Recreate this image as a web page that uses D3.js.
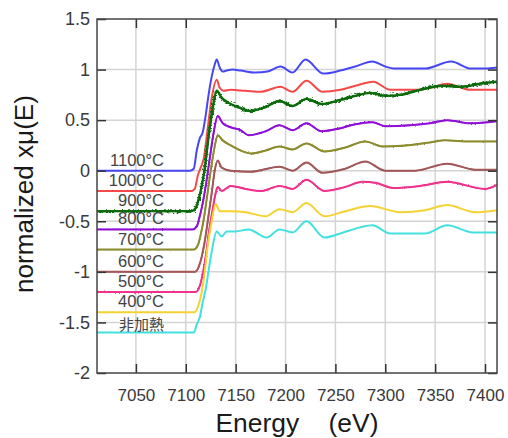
<!DOCTYPE html>
<html>
<head>
<meta charset="utf-8">
<script src="https://cdnjs.cloudflare.com/ajax/libs/d3/7.8.5/d3.min.js"></script>
<style>
  body { margin: 0; background: #fff; }
  svg { display: block; }
</style>
</head>
<body>
<div id="chart"></div>
<script>
// XANES spectra, offset by -0.2 per temperature
const labels = ['1100°C', '1000°C', '900°C', '800°C', '700°C', '600°C', '500°C', '400°C', '非加熱'];
const baselines = [0, -0.2, -0.4, -0.58, -0.78, -1.0, -1.2, -1.4, -1.6];
const colors = ['#4646f5', '#f54848', '#0a6a0a', '#9010d8', '#8c8c2e', '#a25858', '#f0328c', '#f5d232', '#44e0e0'];
const noise = [0, 0, 4.4, 1.5, 1.3, 1.2, 1.5, 0, 0];

const xTicks = [7050, 7100, 7150, 7200, 7250, 7300, 7350, 7400];
const yTicks = [-2, -1.5, -1, -0.5, 0, 0.5, 1, 1.5];

const s1100 = [[7011,0.0],[7060,0.0],[7104,0.0],[7108,0.02],[7111,0.2],[7114,0.32],[7117,0.38],[7120,0.55],[7123,0.76],[7126,0.93],[7129,1.05],[7131,1.1],[7134,1.02],[7137,0.98],[7141,0.99],[7147,1.0],[7155,0.99],[7170,0.97],[7182,0.98],[7195,1.03],[7207,0.97],[7220,1.1],[7238,0.96],[7255,0.99],[7270,1.03],[7287,1.08],[7300,1.03],[7310,1.01],[7340,1.01],[7366,1.08],[7386,1.01],[7400,1.01],[7412,1.02]];
const s1000 = [[7011,-0.2],[7060,-0.2],[7106,-0.2],[7109,-0.18],[7112,-0.05],[7115,0.03],[7118,0.12],[7122,0.42],[7126,0.72],[7131,0.9],[7134,0.82],[7138,0.79],[7145,0.8],[7160,0.79],[7175,0.78],[7195,0.83],[7207,0.78],[7221,0.89],[7237,0.78],[7255,0.8],[7270,0.84],[7288,0.88],[7305,0.8],[7330,0.8],[7345,0.82],[7362,0.86],[7385,0.8],[7400,0.8],[7412,0.8]];
const s900 = [[7011,-0.4],[7060,-0.4],[7106,-0.4],[7110,-0.37],[7113,-0.28],[7116,-0.15],[7119,0.02],[7123,0.35],[7127,0.62],[7131,0.79],[7136,0.72],[7145,0.66],[7155,0.62],[7164,0.59],[7180,0.63],[7194,0.69],[7207,0.64],[7221,0.71],[7236,0.66],[7255,0.7],[7270,0.74],[7285,0.77],[7300,0.74],[7315,0.75],[7335,0.8],[7357,0.84],[7377,0.83],[7395,0.86],[7412,0.88]];
const s800 = [[7011,-0.58],[7060,-0.58],[7107,-0.58],[7111,-0.55],[7114,-0.45],[7117,-0.32],[7120,-0.15],[7124,0.12],[7128,0.38],[7132,0.54],[7137,0.47],[7145,0.43],[7155,0.4],[7163,0.35],[7180,0.39],[7194,0.45],[7207,0.4],[7221,0.47],[7236,0.39],[7255,0.42],[7270,0.46],[7287,0.48],[7300,0.44],[7325,0.45],[7345,0.47],[7362,0.5],[7385,0.47],[7412,0.49]];
const s700 = [[7011,-0.78],[7060,-0.78],[7108,-0.78],[7112,-0.74],[7115,-0.63],[7118,-0.48],[7121,-0.28],[7125,0.0],[7129,0.24],[7132,0.35],[7137,0.3],[7145,0.25],[7155,0.2],[7166,0.17],[7180,0.2],[7194,0.24],[7207,0.21],[7221,0.27],[7239,0.19],[7260,0.23],[7280,0.29],[7297,0.24],[7320,0.25],[7345,0.28],[7360,0.3],[7385,0.29],[7412,0.29]];
const s600 = [[7011,-1.0],[7060,-1.0],[7109,-1.0],[7113,-0.95],[7116,-0.85],[7119,-0.7],[7122,-0.5],[7126,-0.22],[7129,0.0],[7132,0.1],[7136,0.03],[7145,0.0],[7165,-0.01],[7194,0.04],[7207,0.0],[7221,0.08],[7237,-0.02],[7260,0.02],[7280,0.09],[7300,0.0],[7330,0.0],[7362,0.07],[7390,0.01],[7412,0.01]];
const s500 = [[7011,-1.2],[7060,-1.2],[7110,-1.2],[7114,-1.14],[7117,-1.02],[7120,-0.85],[7123,-0.62],[7127,-0.38],[7130,-0.22],[7132,-0.16],[7136,-0.2],[7145,-0.15],[7160,-0.18],[7176,-0.2],[7194,-0.15],[7207,-0.18],[7221,-0.09],[7239,-0.2],[7260,-0.16],[7277,-0.11],[7290,-0.12],[7308,-0.17],[7335,-0.15],[7362,-0.11],[7400,-0.18],[7412,-0.14]];
const s400 = [[7011,-1.4],[7060,-1.4],[7109,-1.4],[7112,-1.35],[7116,-1.2],[7119,-1.0],[7122,-0.74],[7126,-0.5],[7130,-0.33],[7134,-0.4],[7145,-0.4],[7160,-0.41],[7180,-0.45],[7194,-0.38],[7207,-0.41],[7221,-0.32],[7239,-0.45],[7260,-0.4],[7285,-0.35],[7315,-0.41],[7340,-0.39],[7362,-0.34],[7390,-0.41],[7412,-0.39]];
const sRaw = [[7011,-1.6],[7060,-1.6],[7108,-1.6],[7111,-1.52],[7114,-1.45],[7117,-1.3],[7120,-1.17],[7123,-0.98],[7126,-0.8],[7131,-0.6],[7136,-0.65],[7141,-0.6],[7150,-0.6],[7163,-0.58],[7181,-0.66],[7194,-0.58],[7207,-0.61],[7221,-0.5],[7239,-0.66],[7255,-0.62],[7275,-0.56],[7287,-0.54],[7305,-0.62],[7340,-0.62],[7362,-0.54],[7388,-0.61],[7412,-0.61]];

const series = [s1100, s1000, s900, s800, s700, s600, s500, s400, sRaw];

const margin = {top: 19, right: 11, bottom: 65, left: 97};
const W = 508, H = 438;
const width = W - margin.left - margin.right;
const height = H - margin.top - margin.bottom;

const svg = d3.select('#chart')
              .append('svg')
              .attr('width', W)
              .attr('height', H)
              .style('font-family', '"Liberation Sans", Arial, sans-serif');

const defs = svg.append('defs');
defs.append('clipPath')
    .attr('id', 'clip')
    .append('rect')
    .attr('width', width)
    .attr('height', height);

// measurement noise is drawn as a rendering filter, not as data
noise.forEach((n, i) => {
  if (!n) return;
  const f = defs.append('filter')
                .attr('id', 'noise' + i)
                .attr('x', '-2%').attr('y', '-20%')
                .attr('width', '104%').attr('height', '140%');
  f.append('feTurbulence')
   .attr('type', 'fractalNoise')
   .attr('baseFrequency', '0.45 0.9')
   .attr('numOctaves', 2)
   .attr('seed', i + 3)
   .attr('result', 'turb');
  f.append('feDisplacementMap')
   .attr('in', 'SourceGraphic')
   .attr('in2', 'turb')
   .attr('scale', n * 1.6)
   .attr('xChannelSelector', 'R')
   .attr('yChannelSelector', 'G');
});

const g = svg.append('g')
             .attr('transform', `translate(${margin.left},${margin.top})`);

const x = d3.scaleLinear().domain([7011, 7412]).range([0, width]);
const y = d3.scaleLinear().domain([-2, 1.5]).range([height, 0]);

// grid
g.append('g')
 .selectAll('line')
 .data(xTicks)
 .join('line')
 .attr('x1', d => x(d)).attr('x2', d => x(d))
 .attr('y1', 0).attr('y2', height)
 .attr('stroke', '#d4d4d4').attr('stroke-width', 1.5);
g.append('g')
 .selectAll('line')
 .data(yTicks.filter(d => d > -2 && d < 1.5))
 .join('line')
 .attr('x1', 0).attr('x2', width)
 .attr('y1', d => y(d)).attr('y2', d => y(d))
 .attr('stroke', '#d4d4d4').attr('stroke-width', 1.5);

// spectra
const line = d3.line()
               .x(d => x(d[0]))
               .y(d => y(d[1]))
               .curve(d3.curveMonotoneX);

const plot = g.append('g').attr('clip-path', 'url(#clip)');
series.forEach((s, i) => {
  plot.append('path')
      .datum(s)
      .attr('d', line)
      .attr('fill', 'none')
      .attr('stroke', colors[i])
      .attr('stroke-width', i === 2 ? 2.4 : 2);
  // fuzzy copy on top for the noisy scans
  if (noise[i]) {
    plot.append('path')
        .datum(s)
        .attr('d', line)
        .attr('fill', 'none')
        .attr('stroke', colors[i])
        .attr('stroke-width', i === 2 ? 2 : 1.4)
        .attr('filter', `url(#noise${i})`);
  }
});

// axes with inward ticks on all four sides
const tick = 9;
const axisStyle = sel => {
  sel.select('.domain').remove();
  sel.selectAll('.tick line').attr('stroke', '#333').attr('stroke-width', 1.5);
  sel.selectAll('.tick text').attr('fill', '#3a3a3a').style('font-size', '17px');
};
g.append('g')
 .attr('transform', `translate(0,${height})`)
 .call(d3.axisBottom(x).tickValues(xTicks).tickFormat(d3.format('d')).tickSizeInner(-tick).tickPadding(16))
 .call(axisStyle);
g.append('g')
 .call(d3.axisTop(x).tickValues(xTicks).tickSizeInner(-tick).tickFormat(''))
 .call(axisStyle);
g.append('g')
 .call(d3.axisLeft(y).tickValues(yTicks).tickFormat(d => d).tickSizeInner(-tick).tickPadding(7))
 .call(axisStyle)
 .call(sel => sel.selectAll('.tick text').style('font-size', '18px'));
g.append('g')
 .attr('transform', `translate(${width},0)`)
 .call(d3.axisRight(y).tickValues(yTicks).tickSizeInner(-tick).tickFormat(''))
 .call(axisStyle);

g.append('rect')
 .attr('width', width)
 .attr('height', height)
 .attr('fill', 'none')
 .attr('stroke', '#444')
 .attr('stroke-width', 1.5);

// temperature labels
g.append('g')
 .selectAll('text')
 .data(labels)
 .join('text')
 .attr('x', 67)
 .attr('y', (d, i) => y(baselines[i]) - (i === 8 ? 3 : 5))
 .attr('text-anchor', 'end')
 .attr('fill', '#444')
 .style('font-size', (d, i) => i === 8 ? '15px' : '16.5px')
 .style('font-family', (d, i) => i === 8 ? '"Noto Sans CJK JP", sans-serif' : null)
 .text(d => d);

// axis titles
svg.append('text')
   .attr('x', margin.left + width / 2)
   .attr('y', 432)
   .attr('text-anchor', 'middle')
   .attr('fill', '#1a1a1a')
   .style('font-size', '25px')
   .style('white-space', 'pre')
   .attr('xml:space', 'preserve')
   .attr('textLength', 163)
   .attr('lengthAdjust', 'spacingAndGlyphs')
   .text('Energy    (eV)');

svg.append('text')
   .attr('transform', `translate(33,${margin.top + 175}) rotate(-90)`)
   .attr('text-anchor', 'middle')
   .attr('fill', '#1a1a1a')
   .style('font-size', '25px')
   .attr('textLength', 198)
   .attr('lengthAdjust', 'spacingAndGlyphs')
   .text('normalized xμ(E)');
</script>
</body>
</html>
